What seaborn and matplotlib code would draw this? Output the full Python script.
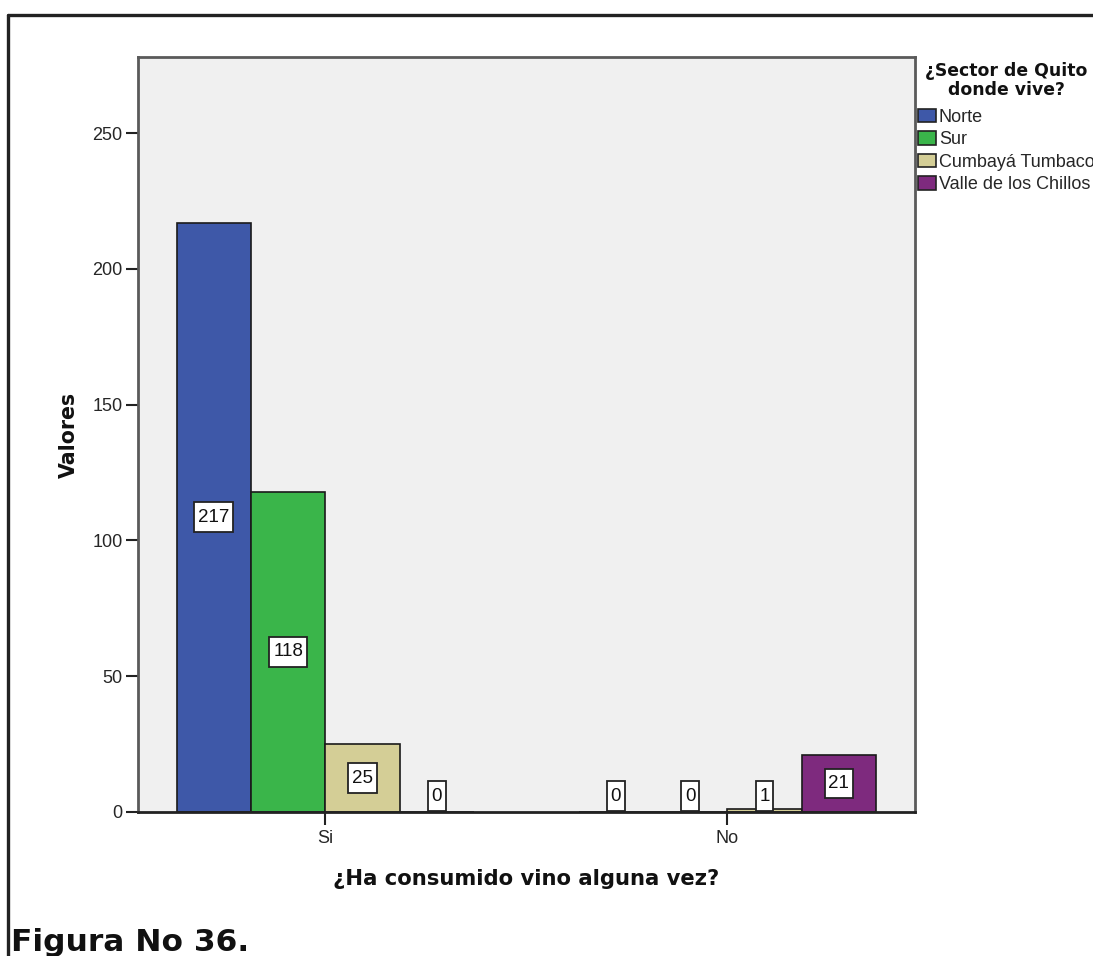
import matplotlib
matplotlib.use("Agg")
import matplotlib.pyplot as plt
from matplotlib.lines import Line2D
from matplotlib.path import Path
import seaborn as sns
import pandas as pd

# Survey counts: wine consumption by Quito sector
respuestas = ["Si", "No"]
sectores = ["Norte", "Sur", "Cumbayá Tumbaco", "Valle de los Chillos"]
valores_si = [217, 118, 25, 0]
valores_no = [0, 0, 1, 21]
colores = ["#3E58A8", "#3AB54A", "#D4CE96", "#7E2A7E"]

df = pd.DataFrame({
    "respuesta": [r for r in respuestas for _ in sectores],
    "sector": sectores * len(respuestas),
    "valor": valores_si + valores_no,
})

sns.set_theme(style="white")
plt.rcParams["font.family"] = ["Liberation Sans", "DejaVu Sans"]
BOLD = ["DejaVu Sans"]

W, H = 1093, 956
fig = plt.figure(figsize=(W / 100, H / 100), dpi=100)
ax = fig.add_axes([138 / W, (H - 812) / H, (915 - 138) / W, (812 - 57) / H])
ax.set_facecolor("#F0F0F0")

sns.barplot(data=df, x="respuesta", y="valor", hue="sector",
            order=respuestas, hue_order=sectores, palette=colores,
            saturation=1, width=0.74, edgecolor="#1a1a1a", linewidth=1.2,
            ax=ax)

ax.set_xlim(-0.466, 1.467)
ax.set_ylim(0, 278)
ax.set_yticks([0, 50, 100, 150, 200, 250])
ax.tick_params(axis="both", which="both", direction="out", length=9,
               width=1.5, color="#222222", labelsize=13, pad=2,
               left=True, bottom=True)
ax.tick_params(axis="x", pad=4)
for s in ax.spines.values():
    s.set_color("#5a5a5a")
    s.set_linewidth(2)
ax.spines["bottom"].set_color("#222222")

ax.set_xlabel("¿Ha consumido vino alguna vez?", fontsize=15.2,
              fontweight="bold", family=BOLD, labelpad=16, color="#111111")
ax.set_ylabel("Valores", fontsize=14.8, fontweight="bold", family=BOLD,
              labelpad=10, color="#111111")


def tall_box(x0, y0, width, height, mutation_size):
    """Square label frame with more room above and below than at the sides."""
    padx = 0.2 * mutation_size
    pady = 0.34 * mutation_size
    x0, y0 = x0 - padx, y0 - pady
    x1, y1 = x0 + width + 2 * padx, y0 + height + 2 * pady
    return Path([(x0, y0), (x1, y0), (x1, y1), (x0, y1), (x0, y0)],
                closed=True)


# value boxes, centred in each bar, resting on the baseline for tiny bars
for cont in ax.containers:
    for bar, v in zip(cont.patches, cont.datavalues):
        xc = bar.get_x() + bar.get_width() / 2
        yc = max(v / 2, 5.8)
        ax.text(xc, yc, f"{int(v)}", ha="center", va="center", fontsize=13.5,
                color="#111111",
                bbox=dict(boxstyle=tall_box, facecolor="white",
                          edgecolor="#222222", linewidth=1.3))

handles, labels = ax.get_legend_handles_labels()
ax.get_legend().remove()
leg = fig.legend(handles, labels, title="¿Sector de Quito\ndonde vive?",
                 loc="upper left", bbox_to_anchor=(918 / W, (H - 62) / H),
                 frameon=False, fontsize=13, borderpad=0, borderaxespad=0,
                 handlelength=1.0, handleheight=0.75, handletextpad=0.15,
                 labelspacing=0.3, alignment="center",
                 title_fontproperties={"weight": "bold", "size": 12.4,
                                       "family": BOLD})
leg.get_title().set_multialignment("center")
leg.get_title().set_linespacing(1.05)
leg.get_title().set_color("#111111")
# a little more room between the title and the entries
leg._legend_box.sep = 13 * 0.3 + 3.5
for h in leg.legend_handles:
    h.set_edgecolor("#222222")
    h.set_linewidth(1.2)

# outer frame of the figure
fig.add_artist(Line2D([8 / W, 1.0], [(H - 15) / H, (H - 15) / H],
                      transform=fig.transFigure, color="#222222", lw=2.4))
fig.add_artist(Line2D([8 / W, 8 / W], [0, (H - 15) / H],
                      transform=fig.transFigure, color="#222222", lw=2.4))

fig.text(11 / W, (H - 951) / H, "Figura No 36.", fontsize=22.5,
         fontweight="bold", family=BOLD, va="baseline", ha="left",
         color="#111111")

fig.savefig("out.png", dpi=100, facecolor="white")
